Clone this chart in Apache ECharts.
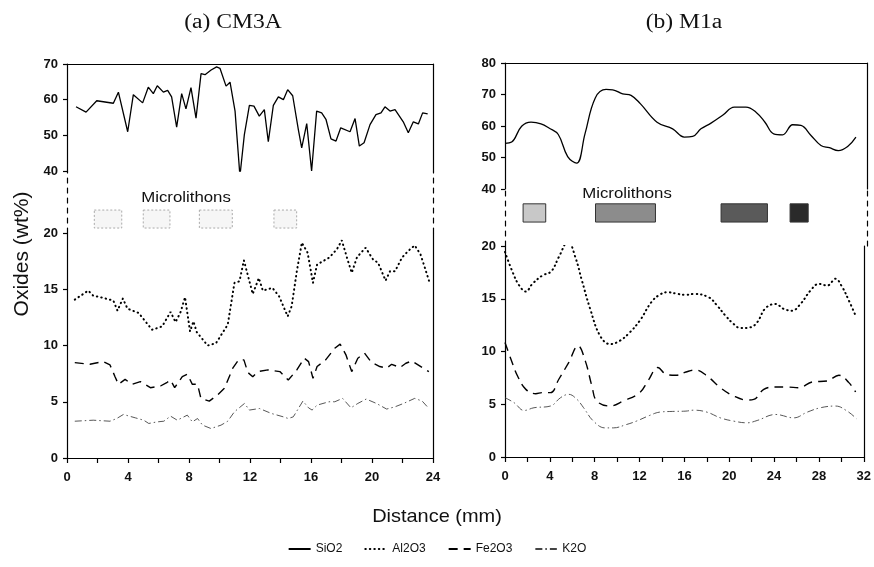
<!DOCTYPE html>
<html>
<head>
<meta charset="utf-8">
<script src="https://cdn.jsdelivr.net/npm/echarts@6/dist/echarts.min.js"></script>
<style>
  html, body { margin: 0; padding: 0; background: #fff; }
  #chart { width: 874px; height: 567px; }
</style>
</head>
<body>
<div id="chart"></div>
<script>
// (a) CM3A  -- [distance mm, wt%]
const sio2A = [[0.59,58.0],[1.25,56.5],[1.95,59.7],[3.04,59.0],[3.37,62.1],[3.98,51.0],[4.35,61.4],[4.96,59.1],[5.33,63.5],[5.66,61.7],[5.92,63.9],[6.32,62.1],[6.60,62.6],[6.86,60.8],[7.19,52.3],[7.52,61.7],[7.80,57.4],[8.13,63.4],[8.46,54.8],[8.79,67.3],[9.05,67.0],[9.45,68.3],[9.81,69.2],[10.03,68.8],[10.43,63.8],[10.69,64.9],[11.02,56.8],[11.34,38.6],[11.63,50.2],[11.96,58.4],[12.26,58.2],[12.61,55.4],[12.94,57.2],[13.20,48.2],[13.53,58.4],[13.86,60.8],[14.19,60.0],[14.47,62.8],[14.80,61.1],[15.17,51.6],[15.39,46.5],[15.72,53.3],[16.04,40.0],[16.37,56.8],[16.70,56.3],[16.98,54.5],[17.31,49.0],[17.64,48.4],[17.95,52.1],[18.56,51.0],[18.89,54.7],[19.17,47.0],[19.48,47.9],[19.87,53.0],[20.26,55.8],[20.59,56.3],[20.85,58.0],[21.18,56.8],[21.51,57.2],[22.05,53.8],[22.38,50.7],[22.71,53.8],[23.04,53.2],[23.32,56.3],[23.65,56.0]];
const al2o3A = [[0.51,14.08],[1.39,14.88],[1.72,14.43],[2.38,14.23],[3.04,13.99],[3.31,13.10],[3.66,14.17],[3.97,13.27],[4.70,12.89],[5.14,12.14],[5.58,11.40],[6.24,11.70],[6.79,12.98],[7.12,12.08],[7.45,12.98],[7.74,14.29],[8.07,11.25],[8.29,12.14],[8.51,11.19],[9.22,10.0],[9.77,10.21],[10.54,11.85],[10.98,15.57],[11.31,15.71],[11.60,17.56],[11.73,16.9],[12.18,14.58],[12.58,16.0],[12.84,14.88],[13.47,15.12],[13.91,14.37],[14.47,12.59],[14.73,13.48],[15.07,16.6],[15.40,19.14],[15.78,18.24],[16.13,15.57],[16.40,17.2],[17.18,17.8],[17.69,18.54],[18.02,19.35],[18.36,17.8],[18.67,16.46],[19.02,17.86],[19.58,18.69],[20.07,17.65],[20.40,17.35],[20.89,15.77],[21.18,16.6],[21.51,16.6],[21.96,17.8],[22.36,18.39],[22.80,18.9],[23.18,18.1],[23.47,16.9],[23.80,15.48]];
const fe2o3A = [[0.51,8.48],[1.50,8.33],[2.38,8.57],[2.82,8.27],[3.15,7.23],[3.37,6.55],[3.81,6.99],[4.26,6.55],[4.81,6.79],[5.47,6.25],[6.13,6.40],[6.57,6.73],[6.79,6.93],[7.06,6.25],[7.56,7.23],[7.89,7.44],[8.22,6.55],[8.56,6.55],[8.78,5.30],[9.33,5.06],[9.88,5.60],[10.32,6.19],[10.87,7.98],[11.25,8.72],[11.60,8.72],[11.86,7.60],[12.18,7.23],[12.51,7.68],[13.18,7.83],[13.96,7.68],[14.51,6.93],[15.07,7.83],[15.56,8.87],[15.84,8.57],[16.13,7.08],[16.40,8.13],[16.96,8.72],[17.56,9.76],[17.91,10.12],[18.29,9.17],[18.67,7.68],[19.07,8.87],[19.51,9.32],[19.96,8.51],[20.51,8.13],[20.96,7.98],[21.29,8.33],[21.84,8.04],[22.22,8.42],[22.62,8.63],[23.29,8.04],[23.73,7.68]];
const k2oA = [[0.51,3.27],[1.72,3.36],[2.82,3.27],[3.26,3.51],[3.70,3.87],[4.48,3.57],[5.03,3.36],[5.36,3.07],[5.91,3.21],[6.35,3.27],[6.79,3.72],[7.23,3.36],[7.89,3.81],[8.22,3.21],[8.56,3.51],[8.89,2.92],[9.44,2.62],[10.10,2.92],[10.54,3.27],[10.98,4.11],[11.64,4.85],[11.96,4.26],[12.62,4.40],[13.40,3.96],[14.18,3.66],[14.51,3.51],[14.84,3.66],[15.47,5.06],[15.84,4.46],[16.07,4.26],[16.40,4.70],[17.18,5.00],[17.56,5.00],[18.07,5.30],[18.62,4.46],[19.07,4.85],[19.62,5.24],[20.29,4.85],[20.96,4.35],[21.51,4.55],[22.07,4.85],[22.80,5.30],[23.29,5.06],[23.73,4.40]];
const microA = [[1.79,3.59],[5.0,6.75],[8.68,10.84],[13.57,15.06]];

// (b) M1a
const sio2B = [[0,54.5],[0.59,54.9],[1.47,59.9],[2.3,61.2],[3.18,60.7],[3.92,59.3],[4.71,57.3],[5.54,50.3],[6.33,48.2],[7.07,57.5],[7.98,68.9],[8.93,71.6],[9.52,71.5],[10.4,70.2],[11.14,69.7],[11.96,67.1],[13.44,61.2],[14.82,59.1],[15.85,56.5],[16.59,56.7],[17.32,59.1],[18.21,60.9],[19.24,63.4],[20.27,66.0],[21.3,66.0],[22.19,64.4],[22.98,61.2],[23.75,57.5],[24.54,57.2],[25.43,60.4],[26.16,60.2],[27.05,57.0],[27.93,53.8],[28.67,53.1],[29.46,52.2],[30.29,53.5],[31.02,56.5]];
const al2o3B = [[0,19.43],[0.68,17.52],[1.27,16.25],[1.86,15.68],[2.44,16.41],[3.33,17.2],[4.12,17.59],[4.8,18.95],[5.63,20.44],[6.27,18.95],[6.86,16.73],[7.6,14.03],[8.48,11.49],[9.37,10.7],[10.25,11.02],[11.13,11.81],[12.02,12.92],[13.05,14.67],[13.78,15.37],[14.52,15.62],[15.4,15.46],[16.14,15.37],[16.83,15.46],[18.17,15.14],[18.92,14.35],[19.66,13.4],[20.4,12.6],[21.0,12.22],[21.89,12.29],[22.49,12.76],[23.23,14.1],[24.13,14.51],[24.87,14.03],[25.61,13.87],[26.36,14.51],[27.25,15.78],[27.99,16.41],[28.74,16.25],[29.48,16.89],[30.08,16.1],[30.67,14.83],[31.27,13.4]];
const fe2o3B = [[0,10.86],[0.53,9.27],[1.12,7.68],[1.86,6.41],[2.74,6.0],[3.33,6.1],[4.06,6.1],[4.8,7.37],[5.68,8.95],[6.51,10.54],[7.16,9.11],[7.75,6.73],[8.19,5.3],[9.37,4.83],[10.54,5.3],[12.02,6.1],[12.75,7.21],[13.64,8.48],[14.37,7.84],[15.26,7.75],[16.14,8.06],[16.98,8.25],[18.02,7.68],[19.21,6.57],[20.4,5.78],[21.6,5.4],[22.19,5.46],[23.08,6.41],[23.98,6.63],[25.17,6.63],[26.21,6.57],[27.4,7.11],[28.74,7.21],[29.78,7.75],[30.67,7.05],[31.27,6.16]];
const k2oB = [[0,5.62],[0.82,5.14],[1.71,4.41],[2.59,4.67],[4.06,4.83],[4.95,5.62],[5.68,5.94],[6.42,5.46],[7.01,4.67],[7.89,3.4],[8.92,2.76],[9.66,2.76],[10.84,3.08],[11.72,3.4],[12.9,3.94],[13.78,4.25],[14.96,4.32],[16.14,4.35],[16.83,4.44],[18.02,4.25],[19.21,3.71],[20.4,3.4],[21.6,3.24],[22.49,3.46],[24.13,4.03],[25.76,3.71],[26.95,4.25],[28.14,4.67],[29.48,4.83],[30.52,4.35],[31.36,3.62]];
const microB = [[1.6,3.6],[8.0,13.3],[19.1,23.2],[25.2,26.8]];

const legendNames = ['SiO2', 'Al2O3', 'Fe2O3', 'K2O'];
const microShadeB = ['#c8c8c8', '#8c8c8c', '#5a5a5a', '#2a2a2a'];

const myChart = echarts.init(document.getElementById('chart'));
const font = 'Liberation Sans, Arial, sans-serif';

const lineStyles = {
  SiO2: { color: '#000', width: 1.3, type: 'solid' },
  Al2O3: { color: '#000', width: 2, type: [0.5, 4], cap: 'round' },
  Fe2O3: { color: '#000', width: 1.4, type: [9, 6] },
  K2O: { color: '#444', width: 0.9, type: [7, 3, 1.5, 3] }
};

// grid rows: top (upper y range), mid (break + microlithons), bottom (0-20)
const grids = [
  { left: 67, top: 64, width: 366, height: 107 },
  { left: 67, top: 171, width: 366, height: 62 },
  { left: 67, top: 233, width: 366, height: 225 },
  { left: 505, top: 63, width: 362, height: 126 },
  { left: 505, top: 189, width: 362, height: 57 },
  { left: 505, top: 246, width: 362, height: 211 }
];

const labelStyle = { color: '#111', fontFamily: font, fontSize: 13, fontWeight: 'bold' };

function xAx(gi, max, kind) {
  const ax = {
    type: 'value', gridIndex: gi, min: 0, max: max, interval: 4,
    axisLine: { show: kind !== 'mid', onZero: false, lineStyle: { color: '#000', width: 1.2 } },
    axisTick: { show: false }, axisLabel: { show: false }, splitLine: { show: false },
    position: kind === 'top' ? 'top' : 'bottom'
  };
  if (kind === 'bottom') {
    ax.axisTick = { show: true, length: 5, lineStyle: { color: '#000', width: 1.2 } };
    ax.minorTick = { show: true, splitNumber: 2, length: 5, lineStyle: { color: '#000', width: 1.2 } };
    ax.axisLabel = Object.assign({ show: true, margin: 13 }, labelStyle);
  }
  return ax;
}

function yAx(gi, min, max, interval, side, dashed) {
  const ax = {
    type: 'value', gridIndex: gi, min: min, max: max, interval: interval, position: side,
    axisLine: { show: true, onZero: false, lineStyle: { color: '#000', width: 1.2, type: dashed ? [5, 5] : 'solid' } },
    axisTick: { show: false }, axisLabel: { show: false }, splitLine: { show: false }
  };
  if (side === 'left' && !dashed) {
    ax.axisTick = { show: true, length: 4, lineStyle: { color: '#000', width: 1.2 } };
    ax.axisLabel = Object.assign({ show: true, margin: 9 }, labelStyle);
  }
  return ax;
}

const xAxis = [
  xAx(0, 24, 'top'), xAx(1, 24, 'mid'), xAx(2, 24, 'bottom'),
  xAx(3, 32, 'top'), xAx(4, 32, 'mid'), xAx(5, 32, 'bottom')
];
const yAxis = [
  yAx(0, 40, 70, 10, 'left'), yAx(1, 0, 1, 1, 'left', true), yAx(2, 0, 20, 5, 'left'),
  yAx(3, 40, 80, 10, 'left'), yAx(4, 0, 1, 1, 'left', true), yAx(5, 0, 20, 5, 'left'),
  yAx(0, 40, 70, 10, 'right'), yAx(1, 0, 1, 1, 'right', true), yAx(2, 0, 20, 5, 'right'),
  yAx(3, 40, 80, 10, 'right'), yAx(4, 0, 1, 1, 'right', true), yAx(5, 0, 20, 5, 'right')
];

function lineSeries(name, data, axis, smooth) {
  return {
    name: name, type: 'line', xAxisIndex: axis, yAxisIndex: axis, data: data,
    symbol: 'none', smooth: smooth, lineStyle: lineStyles[name],
    itemStyle: { color: lineStyles[name].color }, silent: true
  };
}

function microSeries(axis, data, yLow, yHigh, fills) {
  return {
    type: 'custom', xAxisIndex: axis, yAxisIndex: axis, data: data, silent: true,
    encode: { x: [0, 1] },
    renderItem: function (params, api) {
      const p0 = api.coord([api.value(0), yHigh]);
      const p1 = api.coord([api.value(1), yLow]);
      return {
        type: 'rect',
        shape: { x: p0[0], y: p0[1], width: p1[0] - p0[0], height: p1[1] - p0[1] },
        style: fills
          ? { fill: fills[params.dataIndex], stroke: '#333', lineWidth: 1 }
          : { fill: '#f6f6f6', stroke: '#aaa', lineWidth: 1, lineDash: [2, 2] }
      };
    }
  };
}

function label(text, x, y, size, family, sx, rot) {
  return {
    type: 'text', x: x, y: y, scaleX: sx || 1, rotation: rot || 0,
    style: { text: text, font: size + 'px ' + family, fill: '#111', textAlign: 'center', textVerticalAlign: 'middle' }
  };
}

const serif = 'Liberation Serif, Times New Roman, serif';

const option = {
  backgroundColor: '#fff',
  animation: false,
  grid: grids,
  xAxis: xAxis,
  yAxis: yAxis,
  legend: {
    data: legendNames, bottom: 7, left: 'center', itemWidth: 22, itemHeight: 8, itemGap: 22,
    itemStyle: { opacity: 0 },
    textStyle: { fontFamily: font, fontSize: 12, color: '#111' }
  },
  graphic: [
    label('(a) CM3A', 233, 23, 20, serif, 1.18),
    label('(b) M1a', 684, 23, 20, serif, 1.18),
    label('Microlithons', 186, 198, 15, font, 1.12),
    label('Microlithons', 627, 194, 15, font, 1.12),
    label('Oxides (wt%)', 22, 254, 21, font, 1, Math.PI / 2),
    label('Distance (mm)', 437, 517, 19, font, 1.05)
  ],
  series: [
    lineSeries('SiO2', sio2A, 0, false),
    lineSeries('Al2O3', al2o3A, 2, false),
    lineSeries('Fe2O3', fe2o3A, 2, false),
    lineSeries('K2O', k2oA, 2, false),
    microSeries(1, microA, 0.08, 0.37, null),
    lineSeries('SiO2', sio2B, 3, 0.4),
    lineSeries('Al2O3', al2o3B, 5, 0.4),
    lineSeries('Fe2O3', fe2o3B, 5, 0.4),
    lineSeries('K2O', k2oB, 5, 0.4),
    microSeries(4, microB, 0.42, 0.74, microShadeB)
  ]
};
myChart.setOption(option);
</script>
</body>
</html>
